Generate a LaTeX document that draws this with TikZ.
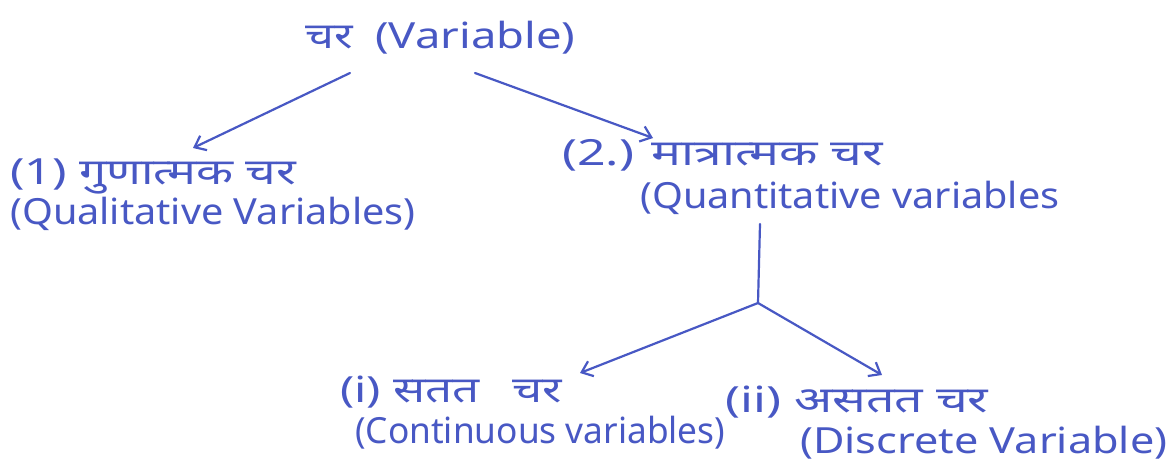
\documentclass[tikz,border=0pt]{standalone}
\usepackage{fontspec}
\setmainfont{Noto Sans}
\newfontfamily\dev[Script=Devanagari]{Noto Sans}
\usetikzlibrary{arrows.meta}
\definecolor{handblue}{RGB}{72,88,196}
\newcommand{\wide}[2]{\scalebox{#1}[1]{#2}}
\begin{document}
\begin{tikzpicture}[x=1pt,y=-1pt,
  lbl/.style={anchor=west,inner sep=0pt,text=handblue,font=\dev\fontsize{36}{40}\selectfont},
  conn/.style={draw=handblue,line width=2.2pt,line cap=round},
  arr/.style={conn,-{Straight Barb[length=10pt,width=16pt,line width=2.2pt]}}]
\useasboundingbox[fill=white] (0,0) rectangle (1175,476);
\node[lbl] (top) at (305,38) {\wide{1.26}{चर\hspace{18pt}(Variable)}};
\node[lbl] (qa) at (10,176) {\wide{1.34}{(1) गुणात्मक चर}};
\node[lbl] (qb) at (10,214) {\wide{1.1}{(Qualitative Variables)}};
\node[lbl] (na) at (562,155) {\wide{1.39}{(2.) मात्रात्मक चर}};
\node[lbl] (nb) at (640,198) {\wide{1.1}{(Quantitative variables}};
\node[lbl] (ca) at (340,392) {\wide{1.32}{(i) सतत\hspace{25pt}चर}};
\node[lbl] (cb) at (355,433) {\wide{0.98}{(Continuous variables)}};
\node[lbl] (da) at (725,402) {\wide{1.39}{(ii) असतत चर}};
\node[lbl] (db) at (800,443) {\wide{1.2}{(Discrete Variable)}};
\coordinate (tl) at (350,73);
\coordinate (tr) at (475,73);
\coordinate (ql) at (193,148);
\coordinate (nr) at (653,138);
\coordinate (vs) at (760,224);
\coordinate (j) at (758,303);
\coordinate (ce) at (580,373);
\coordinate (de) at (882,375);
\draw[arr] (tl) -- (ql);
\draw[arr] (tr) -- (nr);
\draw[conn] (vs) -- (j);
\draw[arr] (j) -- (ce);
\draw[arr] (j) -- (de);
\end{tikzpicture}
\end{document}
